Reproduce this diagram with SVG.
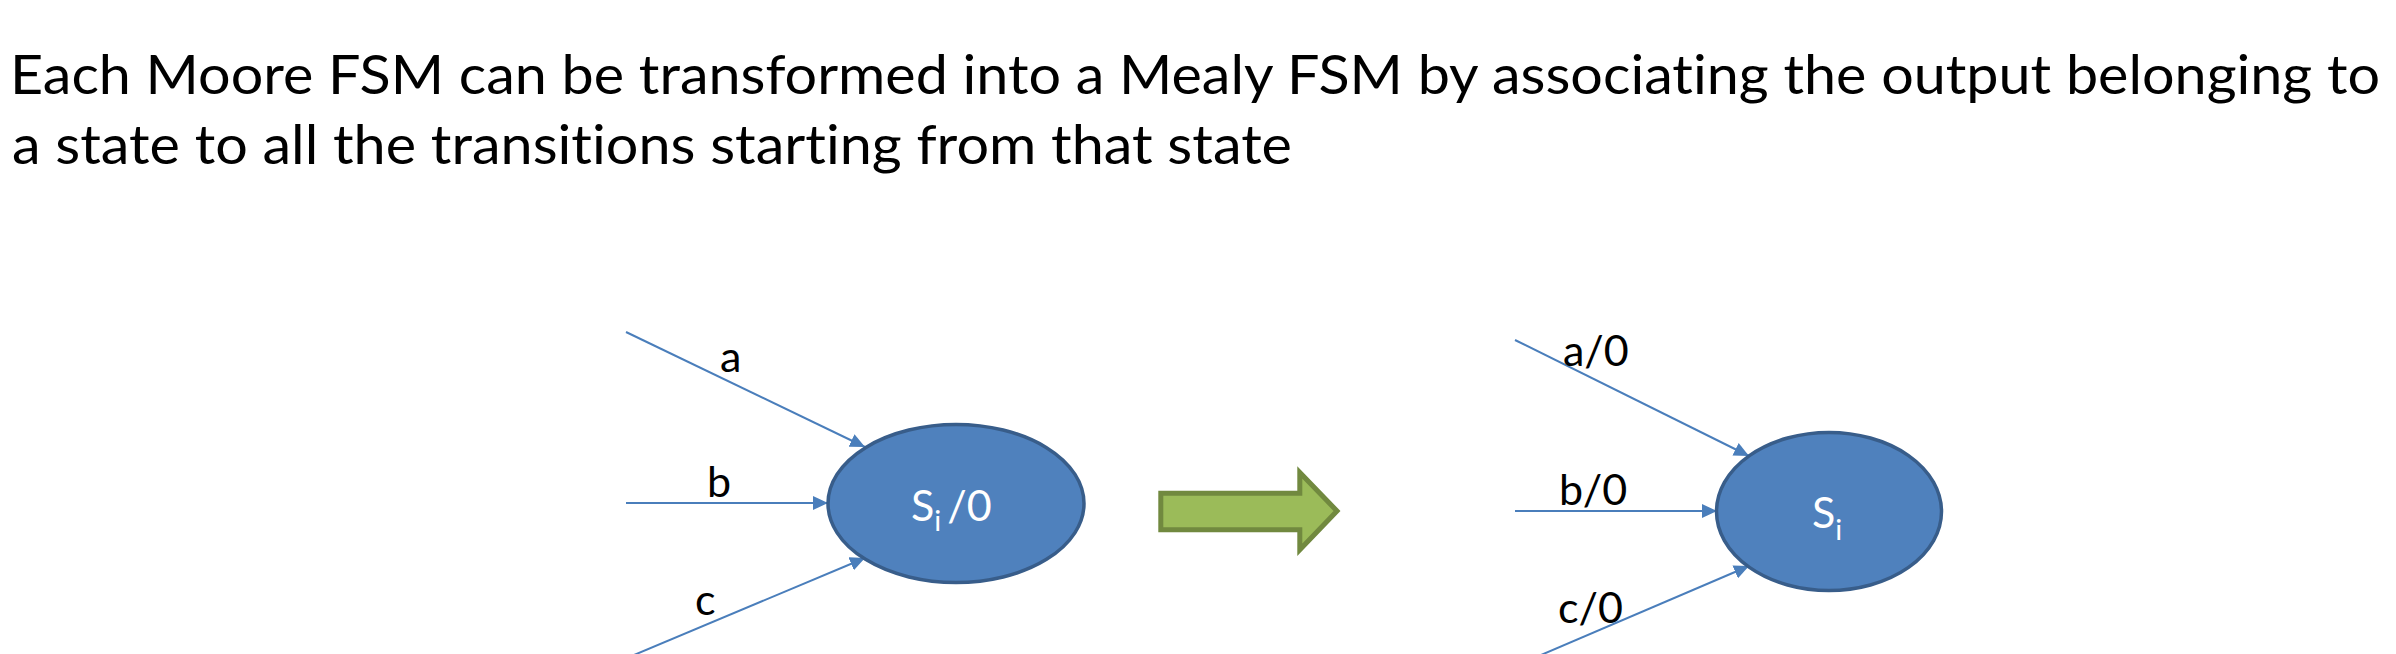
<svg xmlns="http://www.w3.org/2000/svg" width="2396" height="654" viewBox="0 0 2396 654">
<style>
text{font-variant-ligatures:none}
.hdr{font-family:Lato,"Liberation Sans",sans-serif;font-size:55px;fill:#000}
.lbl{font-family:Lato,"Liberation Sans",sans-serif;font-size:43px;fill:#000}
.st{font-family:Lato,"Liberation Sans",sans-serif;font-size:43px;fill:#fff}
.ell{fill:#4F81BD;stroke:#385D8A;stroke-width:3.5}
.con{stroke:#4A7EBB;stroke-width:2;fill:none;marker-end:url(#ah)}
</style>
<defs>
<marker id="ah" markerUnits="userSpaceOnUse" markerWidth="16" markerHeight="14" refX="15" refY="7" orient="auto">
<path d="M0,0 L15,7 L0,14 Z" fill="#4A7EBB"/>
</marker>
</defs>
<rect width="2396" height="654" fill="#fff"/>
<g id="title">
<text class="hdr" x="10" y="94" textLength="2370" lengthAdjust="spacingAndGlyphs">Each Moore FSM can be transformed into a Mealy FSM by associating the output belonging to</text>
<text class="hdr" x="12" y="164" textLength="1280" lengthAdjust="spacingAndGlyphs">a state to all the transitions starting from that state</text>
</g>
<g id="connectors">
<line class="con" x1="626" y1="332" x2="865" y2="447"/>
<line class="con" x1="626" y1="503" x2="828" y2="503"/>
<line class="con" x1="634" y1="655" x2="865" y2="558"/>
<line class="con" x1="1515" y1="340" x2="1749" y2="456"/>
<line class="con" x1="1515" y1="511" x2="1717" y2="511"/>
<line class="con" x1="1541" y1="655" x2="1749" y2="566"/>
</g>
<g id="labels-left">
<text class="lbl" x="720" y="372">a</text>
<text class="lbl" x="707" y="497">b</text>
<text class="lbl" x="695" y="615">c</text>
</g>
<g id="labels-right">
<text class="lbl" x="1563" y="366">a/0</text>
<text class="lbl" x="1559" y="505">b/0</text>
<text class="lbl" x="1558" y="623">c/0</text>
</g>
<g id="moore-state">
<ellipse class="ell" cx="956" cy="503.5" rx="128" ry="79"/>
<text class="st" x="911" y="521">S<tspan font-size="29" dy="10">i</tspan><tspan dy="-10" dx="6">/0</tspan></text>
</g>
<g id="transform-arrow">
<path d="M1160.8,493.2 H1299.8 V472.5 L1337,511 L1299.8,549.8 V529.8 H1160.8 Z" fill="#9BBB59" stroke="#71893F" stroke-width="5"/>
</g>
<g id="mealy-state">
<ellipse class="ell" cx="1829" cy="511.5" rx="112.5" ry="79"/>
<text class="st" x="1812" y="528">S<tspan font-size="29" dy="12">i</tspan></text>
</g>
</svg>
